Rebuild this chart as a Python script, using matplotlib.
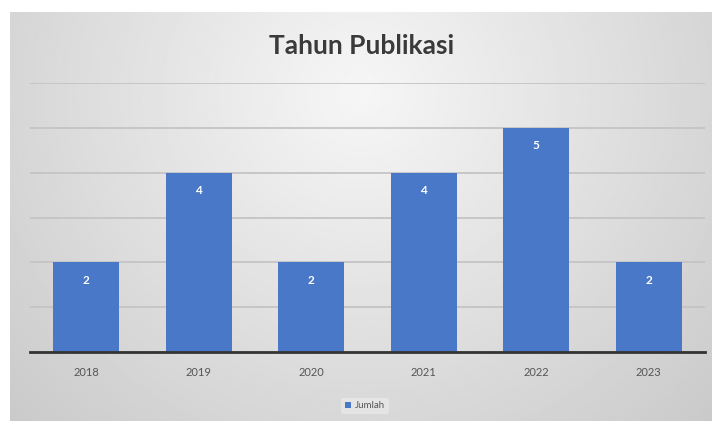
import matplotlib
matplotlib.use("Agg")
import matplotlib.pyplot as plt
import numpy as np

years = ["2018", "2019", "2020", "2021", "2022", "2023"]
jumlah = [2, 4, 2, 4, 5, 2]
series_name = "Jumlah"
title = "Tahun Publikasi"

W, H = 712, 421
fig = plt.figure(figsize=(W / 100, H / 100), dpi=100)
fig.patch.set_facecolor("white")

# background panel with soft gradient
bg = fig.add_axes([10 / W, 0, (W - 10) / W, (H - 12) / H])
yy, xx = np.mgrid[0:1:200j, 0:1:300j]
d = np.sqrt(((xx - 0.5) / 0.6) ** 2 + ((yy - 0.2) / 1.0) ** 2)
val = 0.965 - 0.15 * np.clip(d, 0, 1.2)
bg.imshow(val, cmap="gray", vmin=0, vmax=1, aspect="auto", extent=[0, 1, 1, 0])
bg.set_axis_off()

ax = fig.add_axes([30 / W, (H - 352) / H, (705 - 30) / W, (352 - 83) / H])
ax.patch.set_alpha(0)
x = np.arange(len(years))
bars = ax.bar(x, jumlah, width=0.59, color="#4a78c8", zorder=3, label=series_name)
ax.set_xlim(-0.5, len(years) - 0.5)
ax.set_ylim(0, 6)
ax.set_yticks(range(0, 7))
ax.yaxis.grid(True, color="#c4c4c4", linewidth=1.3, zorder=0)
ax.tick_params(axis="y", left=False, labelleft=False)
ax.tick_params(axis="x", bottom=False, labelsize=8, labelcolor="#555555", pad=7)
ax.set_xticks(x)
ax.set_xticklabels(years, family="Lato")
for s in ["top", "right", "left"]:
    ax.spines[s].set_visible(False)
ax.spines["bottom"].set_color("#333333")
ax.spines["bottom"].set_linewidth(2)
ax.spines["bottom"].set_zorder(4)

for xi, v in zip(x, jumlah):
    ax.annotate(str(v), (xi, v), xytext=(0, -13), textcoords="offset points",
                ha="center", va="center", color="white", fontsize=8.5,
                fontweight="bold", family="Lato", zorder=5)

fig.text(362 / W, (H - 46) / H, title, ha="center", va="center", fontsize=19,
         fontweight="bold", color="#3a3a3a", family="Lato")

leg = fig.legend(handles=[bars], labels=[series_name], loc="center",
                 bbox_to_anchor=(365 / W, (H - 406) / H), frameon=True,
                 handlelength=0.6, handleheight=0.6,
                 handletextpad=0.4, borderpad=0.4, prop={"family": "Lato", "size": 7})
leg.get_frame().set_facecolor("#e8e8e8")
leg.get_frame().set_edgecolor("none")
for t in leg.get_texts():
    t.set_color("#555555")

fig.savefig("out.png", dpi=100)
